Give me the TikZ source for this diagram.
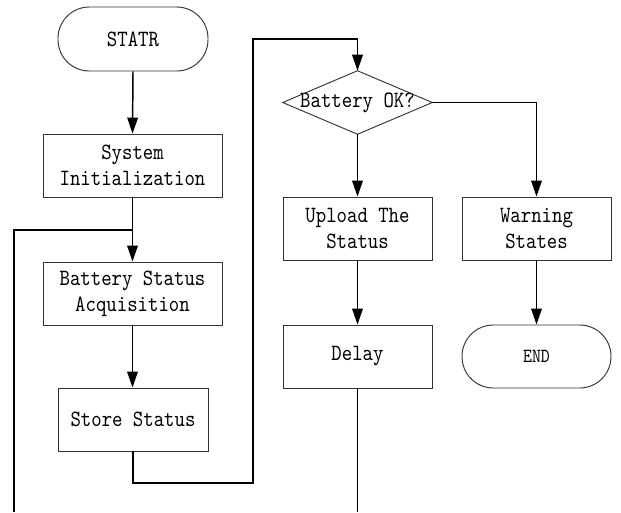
\documentclass[tikz,border=0pt]{standalone}
\usepackage{fontspec}
\setmonofont[FakeStretch=0.85, Extension=.otf]{lmmono10-regular}
\usetikzlibrary{arrows.meta}
\begin{document}
\begin{tikzpicture}[x=0.75pt,y=-0.75pt,
  every node/.style={font=\ttfamily\fontsize{17.5pt}{19.5pt}\selectfont, align=center, inner sep=0pt},
  box/.style={draw=black!80, line width=0.7pt, minimum height=47.25pt},
  term/.style={draw=black!80, line width=0.7pt, minimum height=47.25pt, rounded corners=23.5pt},
  conn/.style={draw=black, line width=1.1pt},
  arr/.style={conn, -{Triangle[length=12pt,width=8pt]}}]
\useasboundingbox (0,0) rectangle (621,512);
\node[term, minimum width=112.5pt, minimum height=48pt] (start) at (133,39) {STATR};
\node[box, minimum width=134.25pt] (init) at (132.5,165.5) {System\\Initialization};
\node[box, minimum width=134.25pt] (acq) at (132.5,293.5) {Battery Status\\Acquisition};
\node[box, minimum width=112.5pt] (store) at (133,419.5) {Store Status};
\node[minimum width=111.75pt, minimum height=47.25pt] (dia) at (357.5,102.5) {Battery OK?};
\draw[black!80, line width=0.7pt] (dia.west) -- (dia.north) -- (dia.east) -- (dia.south) -- cycle;
\node[box, minimum width=111.75pt] (upload) at (357.5,228.5) {Upload The\\Status};
\node[box, minimum width=111.75pt] (delay) at (357.5,356.5) {Delay};
\node[box, minimum width=111.75pt] (warn) at (536.5,228.5) {Warning\\States};
\node[term, minimum width=111.75pt] (end) at (536.5,356.5) {\fontsize{15pt}{16pt}\selectfont END};
\coordinate (lb) at (14,512);
\coordinate (j) at (133,230);
\coordinate (s1) at (253,483);
\coordinate (s2) at (253,39);
\coordinate (db) at (357.5,512);
\draw[arr] (start.south) -- (init.north);
\draw[arr] (init.south) -- (init.south |- acq.north);
\draw[conn] (lb) |- (j);
\draw[arr] (acq.south) -- (acq.south |- store.north);
\draw[arr] (store.south) |- (s1) -- (s2) -| (dia.north);
\draw[arr] (dia.south) -- (upload.north);
\draw[arr] (dia.east) -| (warn.north);
\draw[arr] (upload.south) -- (delay.north);
\draw[arr] (warn.south) -- (end.north);
\draw[conn] (delay.south) -- (db);
\end{tikzpicture}
\end{document}
